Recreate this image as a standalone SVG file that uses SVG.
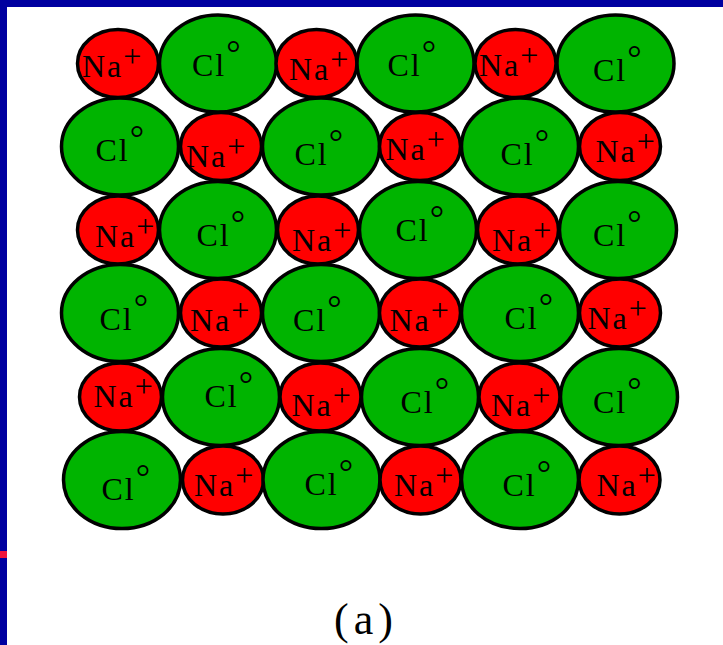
<svg xmlns="http://www.w3.org/2000/svg" width="723" height="645" viewBox="0 0 723 645">
<style>
.na{fill:#FF0000;stroke:#000;stroke-width:3.5}
.cl{fill:#00B400;stroke:#000;stroke-width:3.5}
text{font-family:"Liberation Serif","Times New Roman",serif;font-size:32px;fill:#000;letter-spacing:2px}
.cap{font-size:44px;letter-spacing:5px}
.dg{font-size:36px}
</style>
<rect x="0" y="0" width="723" height="645" fill="#fff"/>
<rect x="0" y="0" width="723" height="7" fill="#0000A0"/>
<rect x="0" y="0" width="7" height="645" fill="#0000A0"/>
<rect x="0" y="551" width="7" height="7" fill="#F0143C"/>
<g id="connectors"/>
<!-- Row 1 -->
<g id="r1c1"><ellipse class="na" cx="118" cy="63.5" rx="40.5" ry="34"/><text x="82" y="77">Na<tspan dy="-10">+</tspan></text></g>
<g id="r1c2"><ellipse class="cl" cx="218" cy="63.5" rx="58.5" ry="48.5"/><text x="192" y="76">Cl<tspan class="dg" dy="-11">°</tspan></text></g>
<g id="r1c3"><ellipse class="na" cx="316.5" cy="63.5" rx="40.5" ry="34"/><text x="289" y="80">Na<tspan dy="-10">+</tspan></text></g>
<g id="r1c4"><ellipse class="cl" cx="415.5" cy="63.5" rx="58.5" ry="48.5"/><text x="387.5" y="76">Cl<tspan class="dg" dy="-11">°</tspan></text></g>
<g id="r1c5"><ellipse class="na" cx="515.5" cy="63.5" rx="40.5" ry="34"/><text x="479" y="76">Na<tspan dy="-10">+</tspan></text></g>
<g id="r1c6"><ellipse class="cl" cx="615.5" cy="63.5" rx="58.5" ry="48.5"/><text x="593" y="81">Cl<tspan class="dg" dy="-11">°</tspan></text></g>
<!-- Row 2 -->
<g id="r2c1"><ellipse class="cl" cx="120" cy="146.5" rx="58.5" ry="48.5"/><text x="95.5" y="161">Cl<tspan class="dg" dy="-11">°</tspan></text></g>
<g id="r2c2"><ellipse class="na" cx="221" cy="146.5" rx="40.5" ry="34"/><text x="186" y="167">Na<tspan dy="-10">+</tspan></text></g>
<g id="r2c3"><ellipse class="cl" cx="321" cy="146.5" rx="58.5" ry="48.5"/><text x="294.5" y="165">Cl<tspan class="dg" dy="-11">°</tspan></text></g>
<g id="r2c4"><ellipse class="na" cx="420" cy="146.5" rx="40.5" ry="34"/><text x="385.5" y="160">Na<tspan dy="-10">+</tspan></text></g>
<g id="r2c5"><ellipse class="cl" cx="520" cy="146.5" rx="58.5" ry="48.5"/><text x="500.5" y="165">Cl<tspan class="dg" dy="-11">°</tspan></text></g>
<g id="r2c6"><ellipse class="na" cx="620" cy="146.5" rx="40.5" ry="34"/><text x="595.5" y="162">Na<tspan dy="-10">+</tspan></text></g>
<!-- Row 3 -->
<g id="r3c1"><ellipse class="na" cx="118" cy="230" rx="40.5" ry="34"/><text x="95" y="247">Na<tspan dy="-10">+</tspan></text></g>
<g id="r3c2"><ellipse class="cl" cx="218" cy="230" rx="58.5" ry="48.5"/><text x="196.5" y="246">Cl<tspan class="dg" dy="-11">°</tspan></text></g>
<g id="r3c3"><ellipse class="na" cx="318" cy="230" rx="40.5" ry="34"/><text x="292" y="251">Na<tspan dy="-10">+</tspan></text></g>
<g id="r3c4"><ellipse class="cl" cx="418" cy="230" rx="58.5" ry="48.5"/><text x="395.5" y="241">Cl<tspan class="dg" dy="-11">°</tspan></text></g>
<g id="r3c5"><ellipse class="na" cx="518" cy="230" rx="40.5" ry="34"/><text x="492" y="251">Na<tspan dy="-10">+</tspan></text></g>
<g id="r3c6"><ellipse class="cl" cx="618" cy="230" rx="58.5" ry="48.5"/><text x="593" y="246">Cl<tspan class="dg" dy="-11">°</tspan></text></g>
<!-- Row 4 -->
<g id="r4c1"><ellipse class="cl" cx="120" cy="313" rx="58.5" ry="48.5"/><text x="99.5" y="330">Cl<tspan class="dg" dy="-11">°</tspan></text></g>
<g id="r4c2"><ellipse class="na" cx="221" cy="313" rx="40.5" ry="34"/><text x="190" y="331">Na<tspan dy="-10">+</tspan></text></g>
<g id="r4c3"><ellipse class="cl" cx="321" cy="313" rx="58.5" ry="48.5"/><text x="293" y="331">Cl<tspan class="dg" dy="-11">°</tspan></text></g>
<g id="r4c4"><ellipse class="na" cx="420" cy="313" rx="40.5" ry="34"/><text x="389.5" y="331">Na<tspan dy="-10">+</tspan></text></g>
<g id="r4c5"><ellipse class="cl" cx="520" cy="313" rx="58.5" ry="48.5"/><text x="504.5" y="329">Cl<tspan class="dg" dy="-11">°</tspan></text></g>
<g id="r4c6"><ellipse class="na" cx="620" cy="313" rx="40.5" ry="34"/><text x="587.5" y="329">Na<tspan dy="-10">+</tspan></text></g>
<!-- Row 5 -->
<g id="r5c1"><ellipse class="na" cx="120.5" cy="397" rx="41" ry="34"/><text x="93.5" y="407">Na<tspan dy="-10">+</tspan></text></g>
<g id="r5c2"><ellipse class="cl" cx="221" cy="397" rx="58.5" ry="48.5"/><text x="204.5" y="407">Cl<tspan class="dg" dy="-11">°</tspan></text></g>
<g id="r5c3"><ellipse class="na" cx="320.5" cy="397" rx="40.5" ry="34"/><text x="291.5" y="416">Na<tspan dy="-10">+</tspan></text></g>
<g id="r5c4"><ellipse class="cl" cx="420" cy="397" rx="58.5" ry="48.5"/><text x="400.5" y="413">Cl<tspan class="dg" dy="-11">°</tspan></text></g>
<g id="r5c5"><ellipse class="na" cx="519.5" cy="397" rx="40.5" ry="34"/><text x="491" y="416">Na<tspan dy="-10">+</tspan></text></g>
<g id="r5c6"><ellipse class="cl" cx="619" cy="397" rx="58.5" ry="48.5"/><text x="593" y="413">Cl<tspan class="dg" dy="-11">°</tspan></text></g>
<!-- Row 6 -->
<g id="r6c1"><ellipse class="cl" cx="122" cy="480" rx="58.5" ry="48.5"/><text x="101.5" y="500">Cl<tspan class="dg" dy="-11">°</tspan></text></g>
<g id="r6c2"><ellipse class="na" cx="223" cy="480" rx="40.5" ry="34"/><text x="194" y="496">Na<tspan dy="-10">+</tspan></text></g>
<g id="r6c3"><ellipse class="cl" cx="321.5" cy="480" rx="58.5" ry="48.5"/><text x="304.5" y="495">Cl<tspan class="dg" dy="-11">°</tspan></text></g>
<g id="r6c4"><ellipse class="na" cx="420.5" cy="480" rx="40.5" ry="34"/><text x="394" y="496">Na<tspan dy="-10">+</tspan></text></g>
<g id="r6c5"><ellipse class="cl" cx="520" cy="480" rx="58.5" ry="48.5"/><text x="502.5" y="496">Cl<tspan class="dg" dy="-11">°</tspan></text></g>
<g id="r6c6"><ellipse class="na" cx="619.5" cy="480" rx="40.5" ry="34"/><text x="596.5" y="496">Na<tspan dy="-10">+</tspan></text></g>
<g id="caption"><text class="cap" x="334" y="634">(a)</text></g>
</svg>
